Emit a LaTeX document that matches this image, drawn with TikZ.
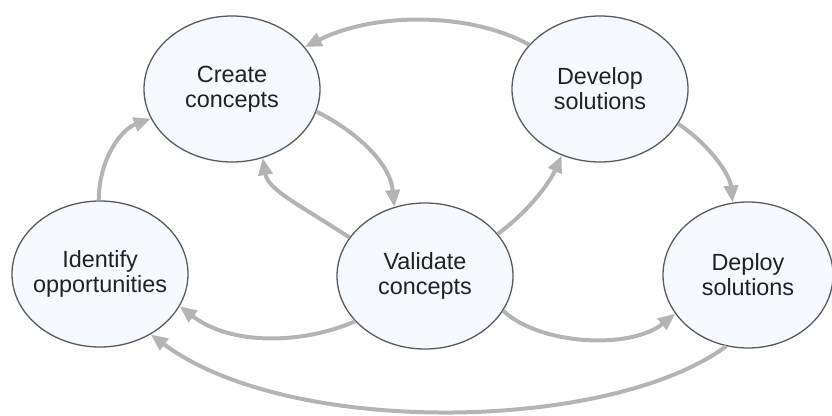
\documentclass[tikz,border=0pt]{standalone}
\usepackage{fontspec}
\setmainfont{Liberation Sans}
\usetikzlibrary{shapes.geometric,arrows.meta}
\definecolor{nodefill}{HTML}{F6FAFE}
\definecolor{nodeline}{HTML}{5A5A5A}
\definecolor{arrowgray}{HTML}{B4B4B4}
\definecolor{textdark}{HTML}{212121}
\tikzset{
  bubble/.style={ellipse, draw=nodeline, fill=nodefill, line width=1.3pt,
    minimum width=176pt, minimum height=146pt, inner sep=0pt},
  bubbletext/.style={align=center, text=textdark, inner sep=0pt,
    font=\fontsize{23.4}{25}\selectfont},
  flow/.style={draw=arrowgray, line width=4pt,
    -{Triangle[length=17pt,width=14pt]}},
}
\begin{document}
\begin{tikzpicture}[x=1pt,y=-1pt]
\useasboundingbox (0,0) rectangle (832,415);
\node[bubble] (cc) at (232,89) {};
\node[bubble] (ds) at (600,89) {};
\node[bubble] (io) at (100,274) {};
\node[bubble] (vc) at (425,276) {};
\node[bubble, minimum width=170pt] (dp) at (748,275) {};
\node[bubbletext] (cct) at (cc) {Create\\concepts};
\node[bubbletext] (dst) at (ds) {Develop\\solutions};
\node[bubbletext] (iot) at (io) {Identify\\opportunities};
\node[bubbletext] (vct) at (vc) {Validate\\concepts};
\node[bubbletext] (dpt) at (dp) {Deploy\\solutions};
% arrows
\draw[flow] (ds.148) .. controls (470,12) and (375,12) .. (cc.30);
\draw[flow] (cc.-15) .. controls (350,128) and (390,160) .. (vc.114);
\draw[flow] (vc.153) .. controls (300,205) and (268,190) .. (cc.-66);
\draw[flow] (vc.30) .. controls (530,210) and (550,182) .. (ds.240);
\draw[flow] (ds.-24) .. controls (710,145) and (730,175) .. (dp.102);
\draw[flow] (io.91) .. controls (99,160) and (120,130) .. (cc.200);
\draw[flow] (vc.213) .. controls (300,345) and (230,345) .. (io.-22);
\draw[flow] (vc.-24) .. controls (540,345) and (630,350) .. (dp.208);
\draw[flow] (dp.253) .. controls (610,432) and (290,438) .. (io.-50);
\end{tikzpicture}
\end{document}
